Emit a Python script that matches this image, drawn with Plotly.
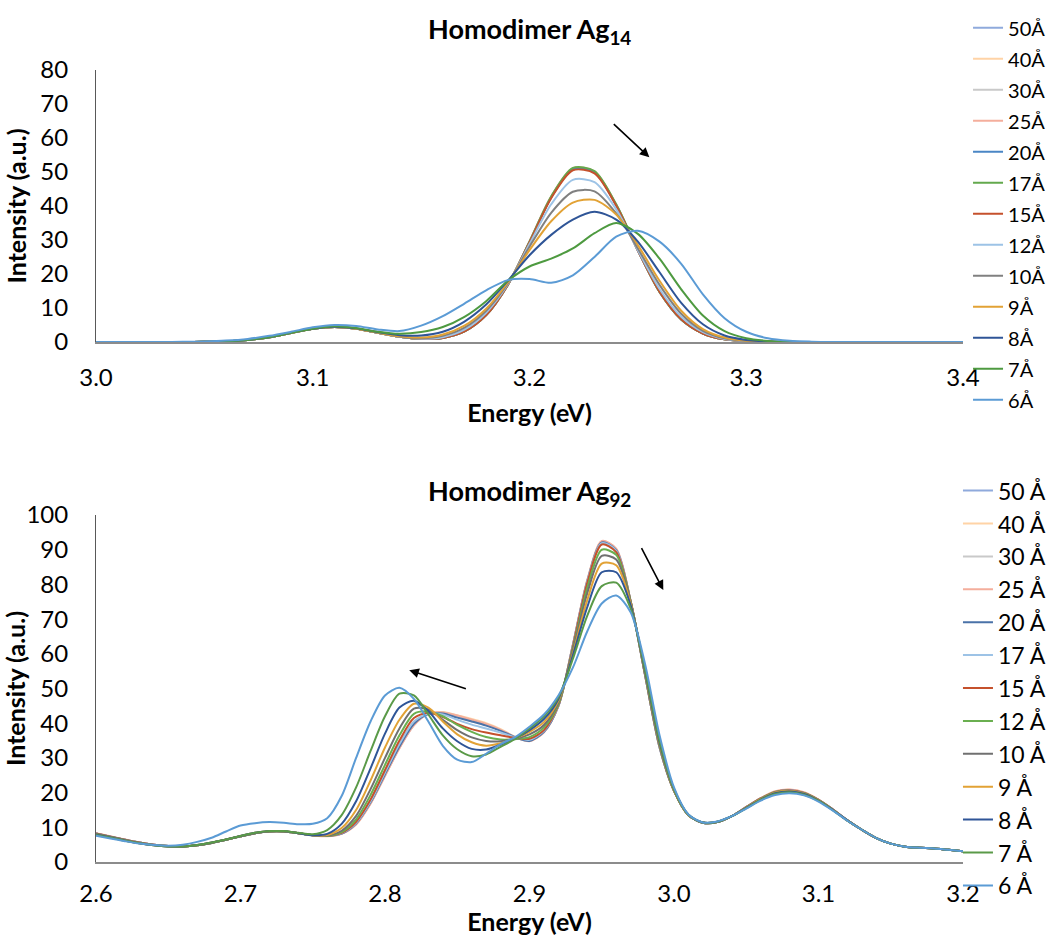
import plotly.graph_objects as go

# ---------------- Data: Homodimer Ag14 ----------------
E14 = [3.00, 3.01, 3.02, 3.03, 3.04, 3.05, 3.06, 3.07, 3.08, 3.09, 3.10,
       3.11, 3.12, 3.13, 3.14, 3.15, 3.16, 3.17, 3.18, 3.19, 3.20,
       3.21, 3.22, 3.23, 3.24, 3.25, 3.26, 3.27, 3.28, 3.29, 3.30,
       3.31, 3.32, 3.33, 3.34, 3.35, 3.36, 3.37, 3.38, 3.39, 3.40]

I14_50 = [0, 0, 0, 0, 0, 0.05, 0.2, 0.6, 1.4, 2.65, 3.85,
          4.4, 3.9, 2.7, 1.5, 0.9, 1.2, 3.1, 7.9, 16.8, 29.5,
          42.6, 50.8, 49.9, 40.3, 26.9, 14.7, 6.6, 2.5, 0.76, 0.19,
          0.04, 0, 0, 0, 0, 0, 0, 0, 0, 0]
I14_40 = [0, 0, 0, 0, 0, 0.05, 0.2, 0.6, 1.4, 2.65, 3.85,
          4.4, 3.9, 2.7, 1.5, 0.9, 1.2, 3.1, 7.9, 16.8, 29.6,
          42.7, 50.9, 50.0, 40.4, 26.9, 14.7, 6.6, 2.5, 0.76, 0.19,
          0.04, 0, 0, 0, 0, 0, 0, 0, 0, 0]
I14_30 = [0, 0, 0, 0, 0, 0.05, 0.2, 0.6, 1.4, 2.65, 3.85,
          4.4, 3.9, 2.7, 1.5, 0.9, 1.2, 3.1, 7.9, 16.8, 29.5,
          42.6, 50.9, 50.0, 40.3, 26.9, 14.7, 6.6, 2.5, 0.76, 0.19,
          0.04, 0, 0, 0, 0, 0, 0, 0, 0, 0]
I14_25 = [0, 0, 0, 0, 0, 0.05, 0.2, 0.6, 1.4, 2.65, 3.85,
          4.4, 3.9, 2.7, 1.5, 0.9, 1.2, 3.1, 7.9, 16.8, 29.6,
          42.8, 51.1, 50.2, 40.4, 26.9, 14.7, 6.6, 2.5, 0.76, 0.19,
          0.04, 0, 0, 0, 0, 0, 0, 0, 0, 0]
I14_20 = [0, 0, 0, 0, 0, 0.05, 0.2, 0.6, 1.4, 2.65, 3.85,
          4.4, 3.9, 2.7, 1.5, 0.9, 1.2, 3.1, 7.9, 16.8, 29.4,
          42.5, 50.8, 49.9, 40.2, 26.9, 14.7, 6.6, 2.5, 0.76, 0.19,
          0.04, 0, 0, 0, 0, 0, 0, 0, 0, 0]
I14_17 = [0, 0, 0, 0, 0, 0.05, 0.2, 0.6, 1.4, 2.65, 3.85,
          4.4, 3.9, 2.7, 1.5, 0.9, 1.2, 3.1, 7.9, 16.8, 29.5,
          42.8, 51.2, 50.3, 40.5, 27.0, 14.7, 6.6, 2.5, 0.76, 0.19,
          0.04, 0, 0, 0, 0, 0, 0, 0, 0, 0]
I14_15 = [0, 0, 0, 0, 0, 0.05, 0.2, 0.6, 1.4, 2.65, 3.85,
          4.4, 3.9, 2.7, 1.5, 0.9, 1.2, 3.1, 7.9, 16.8, 29.3,
          42.3, 50.5, 49.6, 40.1, 26.9, 14.8, 6.7, 2.5, 0.76, 0.19,
          0.04, 0, 0, 0, 0, 0, 0, 0, 0, 0]
I14_12 = [0, 0, 0, 0, 0, 0.05, 0.2, 0.6, 1.4, 2.65, 3.85,
          4.4, 3.9, 2.7, 1.5, 0.95, 1.4, 3.6, 8.6, 17.0, 28.8,
          40.5, 47.7, 47.0, 39.0, 27.0, 15.6, 7.4, 2.9, 0.9, 0.23,
          0.05, 0, 0, 0, 0, 0, 0, 0, 0, 0]
I14_10 = [0, 0, 0, 0, 0, 0.05, 0.2, 0.6, 1.4, 2.65, 3.85,
          4.4, 3.9, 2.7, 1.55, 1.1, 1.8, 4.2, 9.2, 17.2, 28.0,
          38.0, 44.2, 44.3, 37.8, 27.5, 16.8, 8.3, 3.3, 1.1, 0.3,
          0.06, 0, 0, 0, 0, 0, 0, 0, 0, 0]
I14_9 = [0, 0, 0, 0, 0, 0.05, 0.2, 0.6, 1.4, 2.65, 3.85,
         4.4, 3.9, 2.75, 1.65, 1.3, 2.2, 4.8, 9.8, 17.5, 27.0,
         35.5, 41.0, 41.8, 37.5, 28.5, 18.0, 9.2, 3.8, 1.3, 0.35,
         0.08, 0, 0, 0, 0, 0, 0, 0, 0, 0]
I14_8 = [0, 0, 0, 0, 0, 0.05, 0.2, 0.6, 1.4, 2.7, 3.9,
         4.5, 4.0, 2.9, 2.0, 1.9, 3.0, 6.0, 11.0, 18.0, 25.5,
         31.5, 36.0, 38.3, 36.0, 29.5, 20.5, 11.5, 5.2, 1.9, 0.6,
         0.15, 0.03, 0, 0, 0, 0, 0, 0, 0, 0]
I14_7 = [0, 0, 0, 0, 0, 0.05, 0.2, 0.6, 1.4, 2.7, 3.9,
         4.6, 4.1, 3.0, 2.4, 2.9, 4.4, 7.4, 12.0, 18.0, 22.2,
         24.5, 27.5, 32.0, 35.0, 31.8, 24.5, 15.5, 7.8, 3.2, 1.1,
         0.3, 0.05, 0, 0, 0, 0, 0, 0, 0, 0]
I14_6 = [0, 0, 0, 0, 0.05, 0.15, 0.4, 0.9, 1.8, 3.0, 4.3,
         5.0, 4.7, 3.7, 3.2, 4.8, 7.6, 11.3, 15.2, 18.2, 18.5,
         17.4, 19.6, 25.0, 31.0, 32.7, 29.5, 23.0, 14.0, 7.0, 3.0,
         1.1, 0.35, 0.1, 0, 0, 0, 0, 0, 0, 0]

LABELS14 = ["50Å", "40Å", "30Å", "25Å", "20Å", "17Å", "15Å",
            "12Å", "10Å", "9Å", "8Å", "7Å", "6Å"]
SERIES14 = [I14_50, I14_40, I14_30, I14_25, I14_20, I14_17, I14_15,
            I14_12, I14_10, I14_9, I14_8, I14_7, I14_6]
COLORS14 = ["#8FAADC", "#FFD3A6", "#C9C9C9", "#F4AE9C", "#4A86C5", "#63A94D", "#C5512C",
            "#9DC3E6", "#808080", "#E2A235", "#2F5597", "#4E9A40", "#5B9BD5"]

# ---------------- Data: Homodimer Ag92 ----------------
E92 = [2.60, 2.61, 2.62, 2.63, 2.64, 2.65, 2.66, 2.67, 2.68, 2.69,
       2.70, 2.71, 2.72, 2.73, 2.74, 2.75, 2.76, 2.77, 2.78, 2.79,
       2.80, 2.81, 2.82, 2.83, 2.84, 2.85, 2.86, 2.87, 2.88, 2.89,
       2.90, 2.91, 2.92, 2.93, 2.94, 2.95, 2.96, 2.97, 2.98, 2.99,
       3.00, 3.01, 3.02, 3.03, 3.04, 3.05, 3.06, 3.07, 3.08, 3.09,
       3.10, 3.11, 3.12, 3.13, 3.14, 3.15, 3.16, 3.17, 3.18, 3.19, 3.20]

I92_50 = [8.2, 7.3, 6.4, 5.6, 5.0, 4.6, 4.5, 4.8, 5.5, 6.4,
          7.4, 8.3, 8.8, 8.8, 8.3, 7.7, 7.5, 8.2, 11.0, 17.0,
          25.0, 33.0, 39.5, 42.6, 43.0, 42.0, 40.8, 39.6, 38.0, 36.0,
          34.9, 37.5, 45.0, 62.5, 81.0, 92.2, 90.0, 75.1, 53.8, 33.1,
          20.5, 13.5, 11.3, 11.5, 13.2, 15.8, 18.3, 20.2, 20.7, 19.9,
          17.9, 15.1, 12.0, 9.3, 6.9, 5.3, 4.4, 4.1, 3.9, 3.5, 3.1]
I92_40 = [8.2, 7.3, 6.4, 5.6, 5.0, 4.6, 4.5, 4.8, 5.5, 6.4,
          7.4, 8.3, 8.8, 8.8, 8.3, 7.7, 7.5, 8.2, 10.9, 16.9,
          24.9, 32.9, 39.5, 42.8, 43.2, 42.3, 41.2, 40.0, 38.3, 36.1,
          34.9, 37.4, 45.0, 62.6, 81.2, 92.4, 90.2, 75.2, 53.8, 33.1,
          20.5, 13.5, 11.3, 11.5, 13.2, 15.8, 18.4, 20.3, 20.8, 20.0,
          18.0, 15.1, 12.0, 9.3, 6.9, 5.3, 4.4, 4.1, 3.9, 3.5, 3.1]
I92_30 = [8.2, 7.3, 6.4, 5.6, 5.0, 4.6, 4.5, 4.8, 5.5, 6.4,
          7.4, 8.3, 8.8, 8.8, 8.3, 7.7, 7.5, 8.2, 11.0, 17.0,
          25.0, 33.0, 39.6, 42.7, 43.0, 42.1, 40.9, 39.7, 38.0, 36.0,
          34.9, 37.5, 45.0, 62.4, 80.9, 92.0, 89.9, 75.1, 53.8, 33.1,
          20.5, 13.5, 11.3, 11.5, 13.2, 15.8, 18.3, 20.2, 20.7, 19.9,
          17.9, 15.1, 12.0, 9.3, 6.9, 5.3, 4.4, 4.1, 3.9, 3.5, 3.1]
I92_25 = [8.3, 7.4, 6.5, 5.6, 5.0, 4.6, 4.5, 4.8, 5.5, 6.4,
          7.4, 8.3, 8.8, 8.8, 8.3, 7.7, 7.4, 8.1, 10.8, 16.8,
          24.8, 32.8, 39.4, 42.7, 43.1, 42.2, 41.0, 39.8, 38.1, 36.0,
          34.8, 37.4, 45.0, 62.6, 81.3, 92.5, 90.3, 75.2, 53.8, 33.1,
          20.5, 13.5, 11.3, 11.5, 13.2, 15.9, 18.4, 20.4, 20.9, 20.1,
          18.0, 15.2, 12.0, 9.3, 6.9, 5.3, 4.4, 4.1, 3.9, 3.5, 3.1]
I92_20 = [8.2, 7.3, 6.4, 5.6, 5.0, 4.6, 4.5, 4.8, 5.5, 6.4,
          7.4, 8.3, 8.8, 8.8, 8.3, 7.7, 7.5, 8.2, 11.1, 17.2,
          25.3, 33.3, 39.8, 42.7, 42.8, 41.6, 40.5, 39.3, 37.8, 36.0,
          34.9, 37.5, 45.0, 62.4, 80.9, 92.1, 89.9, 75.1, 53.8, 33.1,
          20.5, 13.5, 11.3, 11.5, 13.2, 15.8, 18.3, 20.2, 20.7, 19.9,
          17.9, 15.1, 12.0, 9.3, 6.9, 5.3, 4.4, 4.1, 3.9, 3.5, 3.1]
I92_17 = [8.2, 7.3, 6.4, 5.6, 5.0, 4.6, 4.5, 4.8, 5.5, 6.4,
          7.4, 8.3, 8.8, 8.8, 8.3, 7.7, 7.5, 8.3, 11.3, 17.5,
          25.8, 34.0, 40.5, 42.8, 42.5, 41.0, 39.6, 38.5, 37.3, 36.0,
          35.2, 37.8, 45.0, 62.3, 80.8, 91.9, 89.7, 75.1, 53.9, 33.2,
          20.5, 13.5, 11.3, 11.5, 13.2, 15.8, 18.3, 20.2, 20.6, 19.9,
          17.9, 15.1, 12.0, 9.3, 6.9, 5.3, 4.4, 4.1, 3.9, 3.5, 3.1]
I92_15 = [8.2, 7.3, 6.4, 5.6, 5.0, 4.6, 4.5, 4.8, 5.5, 6.4,
          7.4, 8.3, 8.8, 8.8, 8.3, 7.7, 7.5, 8.4, 11.6, 18.0,
          26.5, 35.0, 41.5, 43.0, 41.8, 39.8, 38.3, 37.3, 36.5, 35.8,
          35.5, 38.0, 45.2, 62.0, 80.5, 91.5, 89.3, 75.1, 54.0, 33.4,
          20.5, 13.5, 11.3, 11.5, 13.2, 15.8, 18.3, 20.2, 20.6, 19.9,
          17.9, 15.1, 12.0, 9.3, 6.9, 5.3, 4.4, 4.1, 3.9, 3.5, 3.1]
I92_12 = [8.1, 7.2, 6.3, 5.5, 4.9, 4.6, 4.5, 4.8, 5.5, 6.4,
          7.4, 8.3, 8.8, 8.8, 8.3, 7.7, 7.5, 8.6, 12.3, 19.3,
          28.0, 36.5, 42.7, 43.4, 42.0, 39.5, 37.5, 36.0, 35.3, 35.4,
          36.0, 38.8, 45.5, 61.3, 79.0, 90.0, 88.5, 75.0, 54.2, 33.6,
          20.6, 13.5, 11.3, 11.5, 13.2, 15.7, 18.2, 20.1, 20.5, 19.8,
          17.8, 15.0, 12.0, 9.3, 6.9, 5.3, 4.4, 4.1, 3.9, 3.5, 3.1]
I92_10 = [8.0, 7.2, 6.3, 5.5, 4.9, 4.5, 4.5, 4.8, 5.5, 6.4,
          7.4, 8.3, 8.8, 8.8, 8.3, 7.7, 7.6, 9.0, 13.3, 21.0,
          30.0, 38.5, 44.2, 44.0, 41.0, 38.0, 35.9, 34.9, 34.8, 35.5,
          36.8, 39.5, 46.0, 60.8, 77.5, 88.2, 87.2, 74.8, 54.5, 33.9,
          20.7, 13.5, 11.3, 11.5, 13.2, 15.7, 18.1, 20.0, 20.5, 19.7,
          17.8, 15.0, 12.0, 9.3, 6.9, 5.3, 4.4, 4.1, 3.9, 3.5, 3.1]
I92_9 = [7.9, 7.1, 6.2, 5.4, 4.8, 4.5, 4.5, 4.9, 5.6, 6.5,
         7.5, 8.4, 8.9, 8.9, 8.3, 7.7, 7.8, 9.8, 15.0, 23.5,
         33.0, 41.0, 45.6, 44.5, 40.5, 36.8, 34.5, 33.5, 34.2, 35.6,
         37.5, 40.3, 46.5, 60.0, 75.5, 86.0, 85.5, 74.5, 54.8, 34.2,
         20.8, 13.5, 11.4, 11.6, 13.2, 15.7, 18.1, 20.0, 20.5, 19.7,
         17.8, 15.0, 12.0, 9.3, 6.9, 5.3, 4.4, 4.1, 3.9, 3.5, 3.1]
I92_8 = [7.9, 7.1, 6.2, 5.4, 4.8, 4.5, 4.5, 4.9, 5.6, 6.5,
         7.5, 8.4, 8.9, 8.9, 8.3, 7.7, 8.1, 11.0, 17.5, 27.0,
         37.0, 44.5, 46.5, 43.5, 38.5, 34.8, 32.6, 32.4, 33.8, 35.6,
         38.0, 41.2, 47.0, 59.5, 73.5, 83.5, 83.5, 74.0, 55.0, 34.5,
         21.0, 13.6, 11.4, 11.6, 13.2, 15.6, 18.0, 19.8, 20.3, 19.6,
         17.7, 15.0, 12.0, 9.3, 6.9, 5.3, 4.4, 4.1, 3.9, 3.5, 3.1]
I92_7 = [7.8, 7.0, 6.1, 5.4, 4.8, 4.5, 4.5, 4.9, 5.6, 6.5,
         7.5, 8.4, 8.9, 8.9, 8.4, 8.0, 9.2, 13.5, 21.5, 32.0,
         42.0, 48.5, 48.0, 42.5, 36.5, 32.5, 30.5, 31.0, 33.2, 35.5,
         38.5, 42.0, 47.5, 58.5, 71.0, 79.5, 80.5, 73.0, 55.5, 35.0,
         21.0, 13.6, 11.4, 11.6, 13.2, 15.5, 17.9, 19.6, 20.1, 19.4,
         17.6, 14.9, 11.9, 9.3, 6.9, 5.3, 4.4, 4.1, 3.9, 3.5, 3.1]
I92_6 = [7.6, 6.8, 6.0, 5.3, 4.9, 4.7, 5.0, 5.8, 7.0, 8.8,
         10.5, 11.2, 11.5, 11.3, 10.9, 11.0, 12.6, 19.0, 30.0, 40.5,
         48.0, 50.2, 47.0, 40.5, 33.5, 29.5, 28.8, 31.2, 34.0, 36.0,
         39.0, 42.5, 48.0, 56.0, 66.5, 74.5, 76.8, 72.0, 57.0, 36.5,
         21.5, 13.7, 11.4, 11.7, 13.2, 15.4, 17.7, 19.3, 19.8, 19.2,
         17.4, 14.8, 11.9, 9.3, 6.9, 5.3, 4.4, 4.1, 3.9, 3.5, 3.1]

LABELS92 = ["50 Å", "40 Å", "30 Å", "25 Å", "20 Å", "17 Å", "15 Å",
            "12 Å", "10 Å", "9 Å", "8 Å", "7 Å", "6 Å"]
SERIES92 = [I92_50, I92_40, I92_30, I92_25, I92_20, I92_17, I92_15,
            I92_12, I92_10, I92_9, I92_8, I92_7, I92_6]
COLORS92 = ["#8FAADC", "#FFD3A6", "#C9C9C9", "#F4AE9C", "#4A72A8", "#9DC3E6", "#C5512C",
            "#6AAF50", "#707070", "#E2A235", "#2F5597", "#5A9A48", "#5B9BD5"]

# arrows (tail -> head), data coordinates
ARROWS14 = [((3.2382, 64.5), (3.2553, 54.3))]
ARROWS92 = [((2.857, 49.8), (2.8168, 55.3)), ((2.977, 90.9), (2.9926, 78.4))]

FONT = "Lato, 'Open Sans', 'DejaVu Sans', sans-serif"

fig = go.Figure()
for name, ys, col in zip(LABELS14, SERIES14, COLORS14):
    fig.add_trace(go.Scatter(x=E14, y=ys, name=name, mode="lines",
                             line=dict(color=col, width=2, shape="spline", smoothing=0.8),
                             xaxis="x", yaxis="y", legend="legend", legendgroup="t" + name))
for name, ys, col in zip(LABELS92, SERIES92, COLORS92):
    fig.add_trace(go.Scatter(x=E92, y=ys, name=name, mode="lines",
                             line=dict(color=col, width=2, shape="spline", smoothing=0.8),
                             xaxis="x2", yaxis="y2", legend="legend2", legendgroup="b" + name))

annotations = []
for (tx, ty), (hx, hy) in ARROWS14:
    annotations.append(dict(x=hx, y=hy, ax=tx, ay=ty, xref="x", yref="y", axref="x", ayref="y",
                            text="", showarrow=True, arrowhead=2, arrowsize=1.2, arrowwidth=1.6,
                            arrowcolor="black"))
for (tx, ty), (hx, hy) in ARROWS92:
    annotations.append(dict(x=hx, y=hy, ax=tx, ay=ty, xref="x2", yref="y2", axref="x2", ayref="y2",
                            text="", showarrow=True, arrowhead=2, arrowsize=1.2, arrowwidth=1.6,
                            arrowcolor="black"))
annotations.append(dict(text="<b>Homodimer Ag<sub>14</sub></b>", x=0.5, y=1.0505, xref="paper", yref="paper",
                        xanchor="center", yanchor="middle", showarrow=False, font=dict(size=27)))
annotations.append(dict(text="<b>Homodimer Ag<sub>92</sub></b>", x=0.5, y=0.467, xref="paper", yref="paper",
                        xanchor="center", yanchor="middle", showarrow=False, font=dict(size=27)))

xcommon = dict(showgrid=False, zeroline=False, showline=True, linecolor="#8C8C8C", linewidth=1.5,
               ticks="outside", ticklen=13, tickcolor="rgba(0,0,0,0)", tickformat=".1f", dtick=0.1,
               tickfont=dict(size=24), layer="below traces")
ycommon = dict(showgrid=False, zeroline=False, showline=True, linecolor="#595959", linewidth=1,
               ticks="outside", ticklen=22, tickcolor="rgba(0,0,0,0)", dtick=10,
               tickfont=dict(size=24), layer="below traces")

fig.update_layout(
    width=1051, height=936,
    margin=dict(l=96, r=88, t=70, b=74, autoexpand=False),
    paper_bgcolor="white", plot_bgcolor="white",
    font=dict(family=FONT, size=24, color="black"),
    xaxis=dict(xcommon, domain=[0, 1], anchor="y", range=[3.0, 3.4], tick0=3.0,
               title=dict(text="<b>Energy (eV)</b>", standoff=15, font=dict(size=25))),
    yaxis=dict(ycommon, domain=[0.6566, 1], anchor="x", range=[0, 80],
               title=dict(text="<b>Intensity (a.u.)</b>", standoff=6, font=dict(size=25))),
    xaxis2=dict(xcommon, domain=[0, 1], anchor="y2", range=[2.6, 3.2], tick0=2.6, ticklen=9,
                title=dict(text="<b>Energy (eV)</b>", standoff=9, font=dict(size=25))),
    yaxis2=dict(ycommon, domain=[0, 0.4381], anchor="x2", range=[0, 100],
                title=dict(text="<b>Intensity (a.u.)</b>", standoff=0, font=dict(size=25))),
    legend=dict(x=1.0058, xanchor="left", y=1.078, yanchor="top", font=dict(size=20),
                tracegroupgap=2, bgcolor="rgba(0,0,0,0)"),
    legend2=dict(x=0.9942, xanchor="left", y=0.496, yanchor="top", font=dict(size=23),
                 tracegroupgap=0, bgcolor="rgba(0,0,0,0)"),
    annotations=annotations,
    showlegend=True,
)

fig.write_html("out.html")
